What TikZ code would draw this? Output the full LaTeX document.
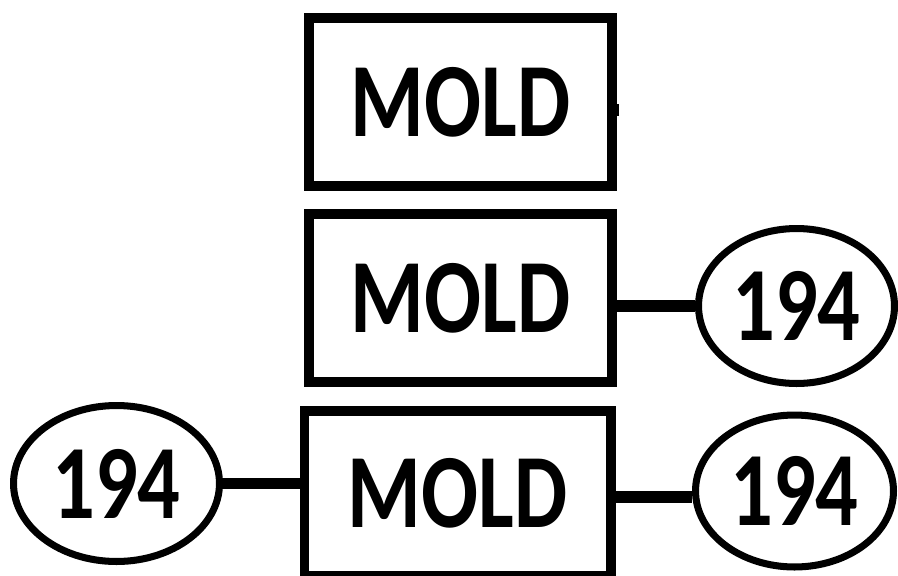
\documentclass[tikz,border=0pt]{standalone}
\usepackage{fontspec}
\newfontfamily\labelfont[FakeStretch=0.8]{Carlito}
\usepackage{tikz}
\usetikzlibrary{shapes.geometric,positioning}

\begin{document}
\begin{tikzpicture}[x=0.02cm,y=-0.02cm,
  every node/.style={font=\labelfont\bfseries\fontsize{60}{61}\selectfont},
  box/.style={draw,rectangle,line width=5.6pt,inner sep=0pt,minimum width=6.06cm,minimum height=3.37cm},
  tag/.style={draw,ellipse,line width=4pt,inner sep=0pt,minimum width=3.92cm,minimum height=3.1cm}]
\useasboundingbox (0,0) rectangle (898,575);
% molds
\node[box] (M1) at (460.5,102) {MOLD};
\node[box] (M2) at (460.5,298) {MOLD};
\node[box,minimum width=6.13cm,minimum height=3.3cm] (M3) at (457.75,493.5) {MOLD};
% labels
\node[tag] (E2) at (796.5,306) {194};
\node[tag,minimum width=3.96cm,minimum height=3.04cm] (E3b) at (794.5,491) {194};
\node[tag,minimum width=4.12cm,minimum height=3.12cm] (E3a) at (116.5,483.5) {194};
\coordinate (S) at (619,110);
\path[-,line width=6.4pt]
(M1.east |- S) edge (S)
(E2.west -| M2.east) edge (E2.west)
(E3a.east) edge (E3a.east -| M3.west)
([yshift=-0.12cm]E3b.west -| M3.east) edge ([yshift=-0.12cm]E3b.west);
\end{tikzpicture}
\end{document}
